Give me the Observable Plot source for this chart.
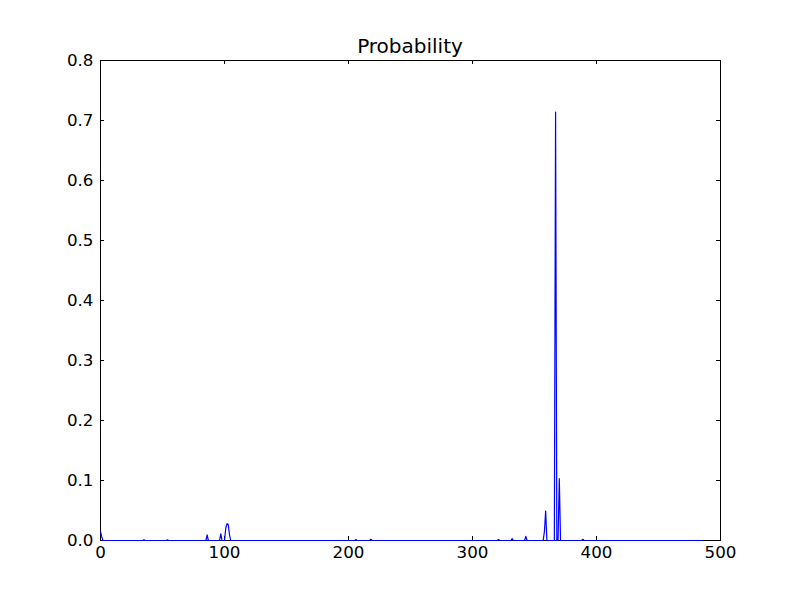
<!DOCTYPE html>
<html>
<head>
<meta charset="utf-8">
<script src="https://cdn.jsdelivr.net/npm/d3@7"></script>
<script src="https://cdn.jsdelivr.net/npm/@observablehq/plot@0.6"></script>
<style>
  html, body { margin: 0; padding: 0; background: #fff; }
  #chart { position: relative; width: 800px; height: 600px; }
  #title { position: absolute; left: 100px; width: 620px; top: 36px; text-align: center;
           font-family: "DejaVu Sans", sans-serif; font-size: 20px; line-height: 20px; color: #000; }
  svg { display: block; }
</style>
</head>
<body>
<div id="chart"><div id="title">Probability</div></div>
<script>
// Index positions (x) and probability values
const positions = [0, 1, 2, 34, 35, 36, 53, 54, 55, 85, 86, 87, 95, 96, 97, 98, 100, 101, 102, 103, 104, 105,
  205, 206, 207, 217, 218, 219, 320, 321, 322, 331, 332, 333, 342, 343, 344,
  357, 358, 359, 360, 366, 367, 368, 369, 370, 371, 388, 389, 390, 485];
const probabilities = [0.015, 0.006, 0, 0, 0.001, 0, 0, 0.001, 0, 0, 0.0095, 0, 0, 0, 0.011, 0, 0, 0.02, 0.028, 0.027, 0.01, 0,
  0, 0.0015, 0, 0, 0.002, 0, 0, 0.0015, 0, 0, 0.003, 0, 0, 0.007, 0,
  0, 0.015, 0.049, 0, 0, 0.714, 0, 0, 0.103, 0, 0, 0.002, 0, 0];
const xTicks = [0, 100, 200, 300, 400, 500];
const yTicks = [0.0, 0.1, 0.2, 0.3, 0.4, 0.5, 0.6, 0.7, 0.8];

const data = positions.map((x, i) => ({x, p: probabilities[i]}));
const W = 800, H = 600, mL = 100, mR = 80, mT = 60, mB = 60;
const innerW = W - mL - mR, innerH = H - mT - mB, tick = 4;

const plot = Plot.plot({
  width: W, height: H,
  marginLeft: mL, marginRight: mR, marginTop: mT, marginBottom: mB,
  style: {fontFamily: "DejaVu Sans, sans-serif", fontSize: "16.7px", color: "#000", background: "#fff"},
  x: {domain: [0, 500], ticks: xTicks, tickFormat: d3.format("d"), label: null},
  y: {domain: [0, 0.8], ticks: yTicks, tickFormat: d3.format(".1f"), label: null},
  marks: [
    Plot.axisX({ticks: xTicks, tickSize: 0, tickPadding: 6, tickFormat: d3.format("d"), fontSize: 16.7}),
    Plot.axisY({ticks: yTicks, tickSize: 0, tickPadding: 7, tickFormat: d3.format(".1f"), fontSize: 16.7}),
    Plot.tickY(yTicks, {y: d => d, stroke: "#000", insetRight: innerW - tick}),
    Plot.tickY(yTicks, {y: d => d, stroke: "#000", insetLeft: innerW - tick}),
    Plot.tickX(xTicks, {x: d => d, stroke: "#000", insetTop: innerH - tick}),
    Plot.tickX(xTicks, {x: d => d, stroke: "#000", insetBottom: innerH - tick}),
    Plot.frame({stroke: "#000", strokeWidth: 1}),
    Plot.line(data, {x: "x", y: "p", stroke: "#0000ff", strokeWidth: 1.2})
  ]
});
document.getElementById("chart").appendChild(plot);
</script>
</body>
</html>
